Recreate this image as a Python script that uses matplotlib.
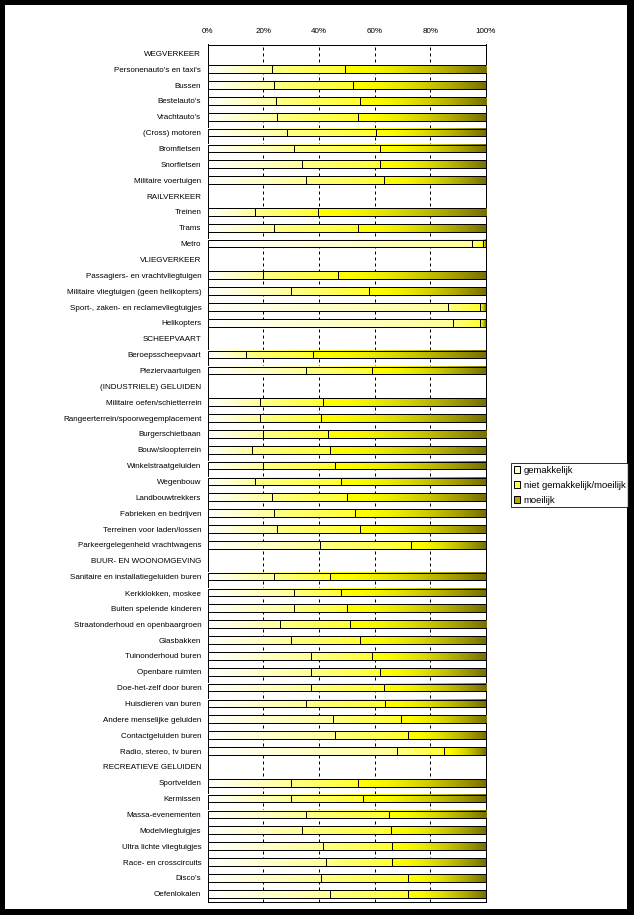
import numpy as np
import matplotlib
matplotlib.use("Agg")
import matplotlib.pyplot as plt
from matplotlib.patches import Rectangle, Patch
from matplotlib.colors import to_rgb

plt.rcParams['font.family'] = ['Liberation Sans', 'DejaVu Sans']

# ---- data (percentages: gemakkelijk / niet gemakkelijk-moeilijk / moeilijk) ----
categories = [
    "WEGVERKEER",
    "Personenauto's en taxi's", "Bussen", "Bestelauto's", "Vrachtauto's",
    "(Cross) motoren", "Bromfietsen", "Snorfietsen", "Militaire voertuigen",
    "RAILVERKEER",
    "Treinen", "Trams", "Metro",
    "VLIEGVERKEER",
    "Passagiers- en vrachtvliegtuigen", "Militaire vliegtuigen (geen helikopters)",
    "Sport-, zaken- en reclamevliegtuigjes", "Helikopters",
    "SCHEEPVAART",
    "Beroepsscheepvaart", "Pleziervaartuigen",
    "(INDUSTRIELE) GELUIDEN",
    "Militaire oefen/schietterrein", "Rangeerterrein/spoorwegemplacement",
    "Burgerschietbaan", "Bouw/sloopterrein", "Winkelstraatgeluiden", "Wegenbouw",
    "Landbouwtrekkers", "Fabrieken en bedrijven", "Terreinen voor laden/lossen",
    "Parkeergelegenheid vrachtwagens",
    "BUUR- EN WOONOMGEVING",
    "Sanitaire en installatiegeluiden buren", "Kerkklokken, moskee",
    "Buiten spelende kinderen", "Straatonderhoud en openbaargroen", "Glasbakken",
    "Tuinonderhoud buren", "Openbare ruimten", "Doe-het-zelf door buren",
    "Huisdieren van buren", "Andere menselijke geluiden", "Contactgeluiden buren",
    "Radio, stereo, tv buren",
    "RECREATIEVE GELUIDEN",
    "Sportvelden", "Kermissen", "Massa-evenementen", "Modelvliegtuigjes",
    "Ultra lichte vliegtuigjes", "Race- en crosscircuits", "Disco's", "Oefenlokalen",
]

nan = np.nan
gemakkelijk = [
    nan, 23.0, 23.7, 24.6, 25.1, 28.7, 30.9, 34.1, 35.5,
    nan, 17.2, 24.0, 95.1,
    nan, 20.1, 30.1, 86.2, 88.3,
    nan, 14.0, 35.2,
    nan, 18.7, 19.0, 20.1, 16.1, 20.1, 16.9, 23.0, 24.0, 25.1, 40.5,
    nan, 24.0, 30.9, 30.9, 26.2, 30.1, 37.0, 37.0, 37.0, 35.5, 45.2, 45.9, 68.2,
    nan, 30.1, 30.1, 35.2, 34.1, 41.6, 42.7, 40.9, 44.1,
]
niet_gemakkelijk_moeilijk = [
    nan, 26.3, 28.7, 30.0, 29.1, 31.9, 31.2, 28.0, 28.0,
    nan, 22.3, 30.2, 3.9,
    nan, 26.9, 28.0, 11.8, 9.7,
    nan, 24.0, 24.0,
    nan, 22.9, 21.9, 23.0, 28.0, 25.8, 31.2, 27.2, 29.1, 29.8, 32.7,
    nan, 20.1, 17.2, 19.3, 24.8, 24.8, 22.2, 25.1, 26.2, 28.4, 24.1, 26.2, 16.8,
    nan, 24.1, 25.9, 29.8, 31.9, 24.8, 23.7, 31.2, 28.0,
]
moeilijk = [
    nan, 50.7, 47.6, 45.4, 45.8, 39.4, 37.9, 37.9, 36.5,
    nan, 60.5, 45.8, 1.0,
    nan, 53.0, 41.9, 2.0, 2.0,
    nan, 62.0, 40.8,
    nan, 58.4, 59.1, 56.9, 55.9, 54.1, 51.9, 49.8, 46.9, 45.1, 26.8,
    nan, 55.9, 51.9, 49.8, 49.0, 45.1, 40.8, 37.9, 36.8, 36.1, 30.7, 27.9, 15.0,
    nan, 45.8, 44.0, 35.0, 34.0, 33.6, 33.6, 27.9, 27.9,
]
series_names = ["gemakkelijk", "niet gemakkelijk/moeilijk", "moeilijk"]
xticks = [0, 20, 40, 60, 80, 100]
xtick_labels = ["0%", "20%", "40%", "60%", "80%", "100%"]

# ---- styling ----
W, H, DPI = 634, 915, 100
px = 72.0 / DPI
grad_stops = [("#FFFFFF", "#FFFF98", 1.0), ("#FFFF88", "#FFFF30", 1.0), ("#FFFF00", "#787000", 1.7)]
legend_colors = ["#FFFFC8", "#FFFF50", "#B8A800"]
fs = 5.8
legend_fs = 6.8

fig = plt.figure(figsize=(W / DPI, H / DPI), dpi=DPI)
fig.patch.set_facecolor("black")
fig.add_artist(Rectangle((5 / W, 1 - 909 / H), (627 - 5) / W, (909 - 5) / H,
                         transform=fig.transFigure, facecolor="white",
                         edgecolor="none", zorder=-10))

ax = fig.add_axes([207.5 / W, 1 - 901.5 / H, (486 - 207.5) / W, (901.5 - 44.5) / H])

n = len(categories)
ypos = np.arange(n)
bar_h = 0.49

series = [np.array(gemakkelijk), np.array(niet_gemakkelijk_moeilijk), np.array(moeilijk)]
left = np.zeros(n)
for s_idx, vals in enumerate(series):
    v = np.nan_to_num(vals)
    bars = ax.barh(ypos, v, left=left, height=bar_h, facecolor="none",
                   edgecolor="black", linewidth=1.0 * px, zorder=4)
    c0 = np.array(to_rgb(grad_stops[s_idx][0]))
    c1 = np.array(to_rgb(grad_stops[s_idx][1]))
    gamma = grad_stops[s_idx][2]
    t = (np.linspace(0, 1, 64) ** gamma)[None, :, None]
    grad = c0[None, None, :] * (1 - t) + c1[None, None, :] * t
    for b, val in zip(bars, vals):
        if np.isnan(val) or val <= 0:
            b.set_visible(False)
            continue
        x0, y0 = b.get_x(), b.get_y()
        ax.imshow(grad, extent=[x0, x0 + b.get_width(), y0 + b.get_height(), y0],
                  aspect="auto", interpolation="bilinear", zorder=3)
    left = left + v

for xv in xticks[1:-1]:
    ax.axvline(xv, color="black", linewidth=1.0 * px, linestyle=(0, (3, 3)), zorder=1)

ax.set_xlim(0, 100)
ax.set_ylim(n - 1 + 0.49, -0.555)
ax.set_aspect("auto")
ax.xaxis.tick_top()
ax.set_xticks(xticks)
ax.set_xticklabels(xtick_labels, fontsize=fs)
ax.set_yticks(ypos)
ax.set_yticklabels(categories, fontsize=fs)
ax.tick_params(axis="x", length=0, pad=7)
ax.tick_params(axis="y", length=0, pad=4.5)
for sp in ax.spines.values():
    sp.set_linewidth(1.0 * px)
    sp.set_color("black")

handles = [Patch(facecolor=c, edgecolor="black", linewidth=1.0 * px) for c in legend_colors]
leg = fig.legend(handles, series_names, loc="upper left",
                 bbox_to_anchor=(511 / W, 1 - 463 / H), fontsize=legend_fs,
                 frameon=True, fancybox=False, edgecolor="black",
                 handlelength=0.7, handleheight=0.7, handletextpad=0.35,
                 borderpad=0.3, labelspacing=0.62, borderaxespad=0)
leg.get_frame().set_linewidth(1.0 * px)

fig.savefig("out.png", dpi=DPI, facecolor="black")
